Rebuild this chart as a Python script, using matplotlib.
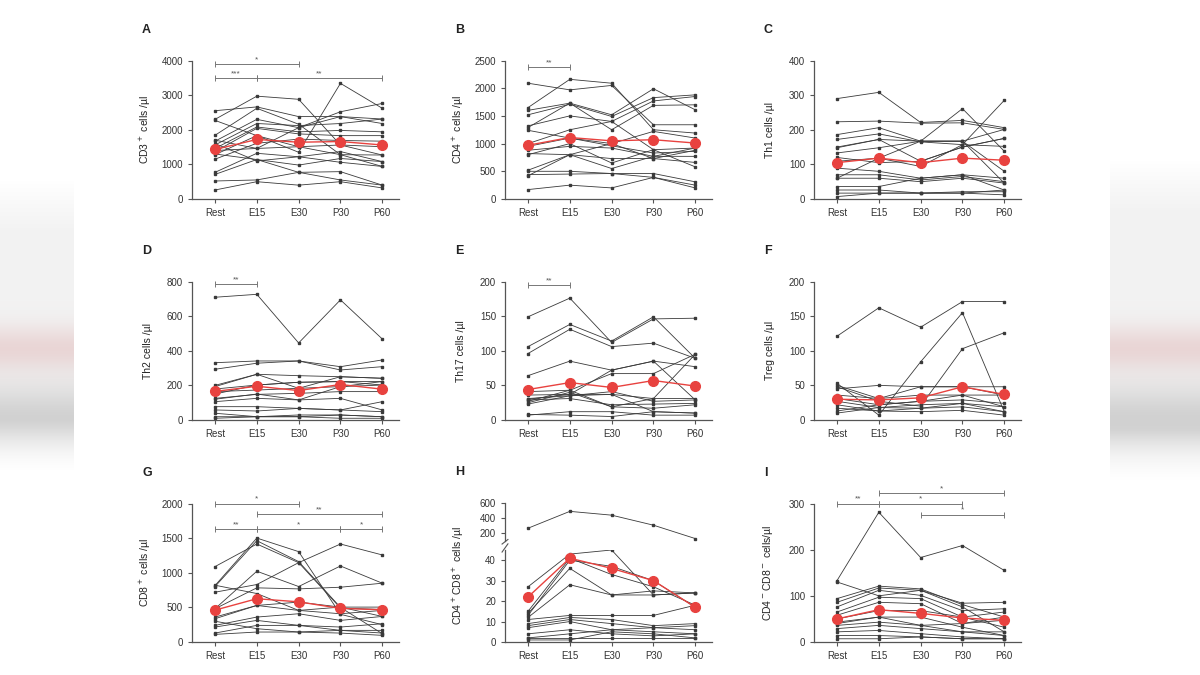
import numpy as np
import matplotlib
matplotlib.use("Agg")
import matplotlib.pyplot as plt

plt.rcParams['font.family'] = ['Liberation Sans', 'DejaVu Sans']

times = ["Rest", "E15", "E30", "P30", "P60"]

# individual subjects (one row per subject) and group means
cd3 = [[2300, 2970, 2880, 1560, 1270], [2550, 2660, 2380, 2380, 2180], [1840, 2620, 2160, 1280, 940],
       [1670, 2300, 2060, 2520, 2760], [1560, 2180, 2120, 2180, 2310], [1460, 2080, 1940, 1980, 1940],
       [1370, 2040, 1880, 1830, 1830], [1280, 1830, 1350, 3340, 2620], [1150, 1610, 1730, 1690, 1670],
       [1400, 1460, 1510, 1560, 1510], [770, 1320, 1220, 1370, 1080], [710, 1140, 980, 1170, 1080],
       [520, 550, 770, 550, 400], [260, 500, 400, 500, 320], [2270, 1830, 1510, 1280, 1270],
       [1600, 1100, 1220, 1060, 940], [1300, 1140, 770, 790, 400], [1700, 1460, 2060, 2380, 2310]]
cd3_mean = [1430, 1720, 1640, 1660, 1560]

cd4 = [[2090, 1970, 2050, 1340, 1340], [1650, 2160, 2090, 1250, 1190], [1600, 1730, 1520, 1990, 1610],
       [1520, 1710, 1490, 1830, 1880], [1320, 1500, 1400, 1770, 1850], [1290, 1730, 1250, 1690, 1700],
       [1240, 1100, 1000, 1220, 1100], [1000, 1250, 1400, 890, 920], [950, 1100, 960, 830, 860],
       [880, 950, 920, 770, 770], [820, 800, 730, 730, 660], [800, 1000, 650, 890, 580],
       [520, 800, 550, 770, 920], [500, 500, 460, 460, 310], [440, 450, 460, 390, 250],
       [420, 800, 1000, 730, 880], [170, 250, 200, 390, 200]]
cd4_mean = [970, 1110, 1050, 1070, 1010]

th1 = [[290, 308, 221, 227, 206], [223, 225, 219, 220, 201], [186, 206, 167, 167, 80],
       [172, 188, 165, 157, 285], [148, 172, 109, 150, 175], [133, 148, 167, 261, 138],
       [109, 118, 94, 157, 152], [89, 80, 60, 70, 60], [70, 70, 55, 65, 50], [60, 60, 50, 60, 46],
       [36, 36, 60, 70, 26], [26, 26, 17, 21, 21], [17, 17, 17, 17, 12], [7, 17, 17, 17, 26],
       [60, 118, 167, 167, 46], [120, 105, 109, 150, 175], [150, 172, 167, 167, 201]]
th1_mean = [105, 118, 105, 118, 112]

th2 = [[709, 726, 445, 694, 468], [331, 341, 341, 308, 347], [293, 328, 341, 289, 308],
       [193, 264, 256, 250, 241], [179, 202, 218, 222, 222], [164, 173, 183, 193, 202],
       [125, 148, 154, 164, 164], [106, 125, 116, 125, 58], [77, 77, 67, 58, 48], [58, 52, 67, 58, 106],
       [39, 19, 29, 29, 19], [19, 19, 19, 29, 19], [10, 19, 19, 10, 10], [200, 264, 183, 250, 241],
       [150, 202, 218, 222, 202], [120, 150, 116, 193, 222]]
th2_mean = [165, 195, 170, 205, 178]

th17 = [[149, 176, 112, 146, 147], [106, 138, 114, 149, 89], [96, 131, 106, 111, 89],
        [64, 85, 72, 85, 77], [41, 43, 67, 67, 95], [36, 37, 37, 31, 31], [31, 35, 41, 27, 29],
        [29, 31, 22, 23, 24], [27, 43, 19, 17, 22], [23, 35, 37, 12, 10], [7, 12, 12, 7, 7],
        [8, 7, 5, 12, 10], [25, 40, 19, 31, 95], [30, 37, 72, 85, 29]]
th17_mean = [44, 54, 47, 57, 49]

treg = [[121, 162, 134, 171, 171], [53, 7, 84, 155, 12], [48, 27, 20, 103, 126], [45, 50, 48, 48, 48],
        [36, 31, 36, 36, 36], [31, 22, 27, 29, 24], [27, 18, 22, 24, 19], [22, 13, 17, 19, 12],
        [17, 13, 12, 14, 7], [13, 22, 27, 36, 19], [10, 18, 17, 24, 12], [50, 31, 48, 48, 36]]
treg_mean = [30, 29, 32, 48, 37]

cd8 = [[1089, 1415, 1146, 490, 470], [815, 1501, 1305, 400, 250], [801, 1463, 1161, 500, 120],
       [719, 830, 1146, 1415, 1257], [480, 1022, 801, 1098, 849], [480, 782, 767, 791, 849],
       [360, 528, 576, 504, 504], [336, 528, 456, 408, 456], [240, 360, 408, 312, 369],
       [216, 312, 240, 216, 264], [129, 240, 240, 168, 168], [110, 144, 144, 129, 96],
       [300, 192, 144, 168, 129], [820, 700, 456, 504, 369]]
cd8_mean = [460, 625, 580, 485, 465]

dp = [[268, 490, 440, 308, 132], [27, 43, 45, 23, 24], [15, 41, 33, 27, 18], [14, 36, 23, 23, 24],
      [12, 28, 23, 25, 24], [11, 13, 13, 13, 18], [9, 12, 11, 8, 9], [8, 11, 9, 7, 8],
      [7, 10, 6, 5, 4], [4, 6, 4, 3, 4], [2, 4, 6, 7, 6], [2, 2, 2, 2, 2], [13, 40, 37, 30, 17],
      [1, 1, 5, 4, 2]]
dp_mean = [22, 41, 36, 30, 17]

dn = [[133, 281, 183, 209, 155], [130, 100, 112, 84, 86], [94, 121, 115, 81, 54], [86, 117, 112, 76, 22],
      [76, 112, 101, 68, 72], [65, 97, 94, 54, 65], [58, 86, 83, 40, 47], [50, 68, 68, 54, 32],
      [43, 54, 54, 32, 14], [36, 43, 36, 22, 22], [29, 36, 29, 22, 14], [22, 25, 18, 11, 7],
      [14, 14, 11, 7, 7], [7, 7, 11, 7, 7], [40, 54, 36, 40, 54]]
dn_mean = [50, 70, 62, 52, 47]

# significance brackets: (start, end, level, stars)
sig_a = [(0, 2, 3900, "*"), (0, 1, 3500, "***"), (1, 4, 3500, "**")]
sig_b = [(0, 1, 2380, "**")]
sig_d = [(0, 1, 785, "**")]
sig_e = [(0, 1, 195, "**")]
sig_g = [(0, 2, 2000, "*"), (1, 4, 1850, "**"), (0, 1, 1630, "**"), (1, 3, 1630, "*"), (3, 4, 1630, "*")]
sig_i = [(1, 4, 322, "*"), (0, 1, 300, "**"), (1, 3, 300, "*"), (2, 4, 276, "*")]

GREY = "#555555"
LINE = "#3a3a3a"
RED = "#e8423f"
x = np.arange(len(times))

fig = plt.figure(figsize=(12, 6.75), dpi=100)

# blurred side strips of the source frame
bg = fig.add_axes([0, 0, 1, 1], zorder=-10)
H, W = 675, 1200
yy, xx = np.mgrid[0:H, 0:W]
img = np.ones((H, W, 3))
for x0, x1, y0, y1 in [(0, 74, 180, 470), (1110, 1200, 160, 480)]:
    m = (xx >= x0) & (xx < x1) & (yy >= y0) & (yy < y1)
    edge = np.clip(np.minimum(yy - y0, y1 - yy) / 50.0, 0, 1)
    grey = 0.05 + 0.13 * np.exp(-((yy - 420) / 35.0) ** 2)
    pink = 0.11 * np.exp(-((yy - 348) / 22.0) ** 2)
    for c, k in enumerate([0.3, 1.0, 1.0]):
        img[..., c] = np.where(m, img[..., c] - edge * (grey + pink * k), img[..., c])
bg.imshow(np.clip(img, 0, 1), aspect="auto", extent=[0, 1, 0, 1])
bg.axis("off")

col_left = [192 / W, 505 / W, 814 / W]
row_bot = [1 - 199 / H, 1 - 420 / H, 1 - 642 / H]
ax_w = 207 / W
ax_h = 138.5 / H


def style(ax, ymax, ticks, xaxis=True):
    ax.set_xlim(-0.55, 4.4)
    ax.set_ylim(0, ymax)
    ax.set_yticks(ticks)
    for s in ["top", "right"]:
        ax.spines[s].set_visible(False)
    for s in ["left", "bottom"]:
        ax.spines[s].set_color(GREY)
        ax.spines[s].set_linewidth(0.9)
    ax.tick_params(axis="both", colors=GREY, labelcolor="#333333", labelsize=7, length=3, width=0.8)
    ax.set_xticks(x)
    if xaxis:
        ax.set_xticklabels(times)
    ax.patch.set_alpha(0)


def draw(ax, subjects, mean):
    for s in subjects:
        ax.plot(x, s, color=LINE, lw=0.6, marker="s", ms=1.8, clip_on=False, zorder=2)
    ax.plot(x, mean, color=RED, lw=1.0, marker="o", ms=7, clip_on=False, zorder=3)


def brackets(ax, sigs):
    for a, b, lvl, txt in sigs:
        ax.plot([a, b], [lvl, lvl], color="#777777", lw=0.7, clip_on=False)
        ax.plot([a, b], [lvl, lvl], color="#777777", ls="none", marker="|", ms=5, mew=0.7, clip_on=False)
        ax.annotate(txt, ((a + b) / 2, lvl), xytext=(0, 0.5), textcoords="offset points",
                    ha="center", va="bottom", fontsize=6, color="#555555", annotation_clip=False)


def letter(ax, txt):
    p = ax.get_position()
    fig.text(p.x0 - 50 / W, p.y1 + 31 / H, txt, fontsize=9, fontweight="bold", color="#222222",
             ha="left", va="center")


panels = [
    ("A", 0, 0, cd3, cd3_mean, 4000, [0, 1000, 2000, 3000, 4000], "CD3$^+$ cells /µl", sig_a),
    ("B", 0, 1, cd4, cd4_mean, 2500, [0, 500, 1000, 1500, 2000, 2500], "CD4$^+$ cells /µl", sig_b),
    ("C", 0, 2, th1, th1_mean, 400, [0, 100, 200, 300, 400], "Th1 cells /µl", []),
    ("D", 1, 0, th2, th2_mean, 800, [0, 200, 400, 600, 800], "Th2 cells /µl", sig_d),
    ("E", 1, 1, th17, th17_mean, 200, [0, 50, 100, 150, 200], "Th17 cells /µl", sig_e),
    ("F", 1, 2, treg, treg_mean, 200, [0, 50, 100, 150, 200], "Treg cells /µl", []),
    ("G", 2, 0, cd8, cd8_mean, 2000, [0, 500, 1000, 1500, 2000], "CD8$^+$ cells /µl", sig_g),
    ("I", 2, 2, dn, dn_mean, 300, [0, 100, 200, 300], "CD4$^-$CD8$^-$ cells/µl", sig_i),
]

for lab, r, c, subj, mean, ymax, ticks, ylab, sigs in panels:
    ax = fig.add_axes([col_left[c], row_bot[r], ax_w, ax_h])
    style(ax, ymax, ticks)
    draw(ax, subj, mean)
    brackets(ax, sigs)
    ax.set_ylabel(ylab, fontsize=7.5, color="#222222")
    ax.yaxis.set_label_coords(-0.19, 0.5)
    letter(ax, lab)

# panel H with a broken y axis
lo = fig.add_axes([col_left[1], 1 - 642 / H, ax_w, 92 / H])
hi = fig.add_axes([col_left[1], 1 - 541 / H, ax_w, 38 / H])
style(lo, 45, [0, 10, 20, 30, 40])
style(hi, 600, [200, 400, 600], xaxis=False)
hi.set_ylim(100, 600)
hi.spines["bottom"].set_visible(False)
hi.tick_params(axis="x", length=0, labelbottom=False)
for s in dp:
    for a in (lo, hi):
        a.plot(x, s, color=LINE, lw=0.6, marker="s", ms=1.8, zorder=2)
lo.plot(x, dp_mean, color=RED, lw=1.0, marker="o", ms=7, clip_on=False, zorder=3)
kw = dict(color=GREY, lw=0.8, clip_on=False)
hi.plot([-0.62, -0.48], [60, 120], **kw)
lo.plot([-0.62, -0.48], [44, 48], **kw)
lo.set_ylabel("CD4$^+$CD8$^+$ cells /µl", fontsize=7.5, color="#222222")
lo.yaxis.set_label_coords(-0.19, 0.72)
letter(hi, "H")

fig.savefig("out.png", dpi=100)
